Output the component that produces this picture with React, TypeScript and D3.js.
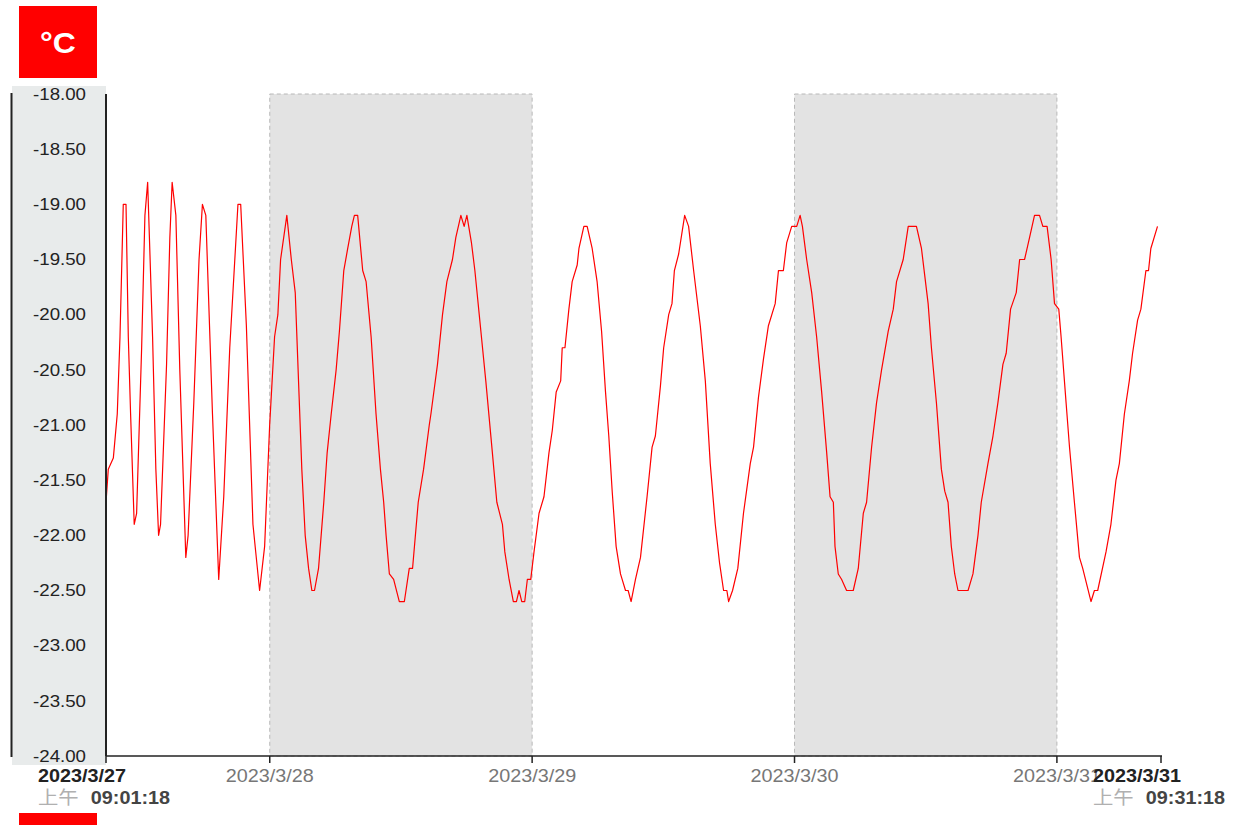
import React from "react";
import * as d3 from "d3";

// ---- data ----
const startTime = "2023-03-27T09:01:18";
const endTime = "2023-03-31T09:31:18";
const startLabel = ["2023/3/27", "上午", "09:01:18"];
const endLabel = ["2023/3/31", "上午", "09:31:18"];
const dayTicks = ["2023-03-28T00:00:00", "2023-03-29T00:00:00", "2023-03-30T00:00:00", "2023-03-31T00:00:00"];
const dayLabels = ["2023/3/28", "2023/3/29", "2023/3/30", "2023/3/31"];
const shadedFrom = ["2023-03-28T00:00:00", "2023-03-30T00:00:00"];
const shadedTo = ["2023-03-29T00:00:00", "2023-03-31T00:00:00"];
const yTicks = [-18, -18.5, -19, -19.5, -20, -20.5, -21, -21.5, -22, -22.5, -23, -23.5, -24];
const unitLabel = "°C";

// hours since start, temperature (°C)
const hoursSinceStart = [
  0.0, 0.21, 0.67, 1.03, 1.28, 1.58, 1.83, 2.04, 2.25, 2.58, 2.8, 3.26, 3.56, 3.81, 4.26, 4.56, 4.81, 4.99,
  5.54, 5.84, 6.05, 6.39, 6.75, 7.3, 7.51, 8.03, 8.51, 8.82, 9.13, 9.74, 10.31, 10.77, 11.32, 12.07, 12.32,
  12.84, 13.44, 14.05, 14.51, 14.97, 15.42, 15.72, 15.97, 16.54, 16.95, 17.31, 17.61, 17.91, 18.22, 18.53,
  18.83, 19.07, 19.44, 19.92, 20.23, 20.6, 21.05, 21.35, 21.75, 22.11, 22.48, 22.72, 23.02, 23.48, 23.79,
  24.25, 24.7, 25.1, 25.4, 25.62, 25.92, 26.31, 26.83, 27.29, 27.74, 28.04, 28.56, 29.05, 29.57, 29.72,
  30.32, 30.78, 31.18, 31.69, 32.0, 32.46, 32.76, 33.01, 33.43, 33.74, 34.29, 34.74, 35.34, 35.75, 36.26,
  36.48, 36.87, 37.26, 37.54, 37.78, 38.03, 38.3, 38.54, 38.85, 39.15, 39.61, 40.06, 40.52, 40.82, 41.18,
  41.59, 41.73, 41.98, 42.34, 42.64, 43.1, 43.26, 43.71, 44.01, 44.47, 44.92, 45.33, 45.69, 45.99, 46.3,
  46.66, 47.06, 47.52, 47.76, 48.03, 48.43, 48.89, 49.49, 49.95, 50.25, 50.71, 51.01, 51.47, 51.77, 51.99,
  52.38, 52.93, 53.29, 53.75, 54.36, 54.82, 55.27, 55.73, 56.12, 56.49, 56.79, 56.95, 57.31, 57.79, 58.31,
  58.93, 59.23, 59.68, 60.14, 60.59, 61.21, 61.51, 61.96, 62.26, 62.72, 63.18, 63.49, 63.7, 64.09, 64.55,
  65.0, 65.46, 65.92, 66.23, 66.53, 66.68, 66.98, 67.29, 67.74, 68.35, 68.81, 69.27, 69.57, 70.03, 70.48,
  70.94, 71.55, 72.01, 72.31, 72.92, 73.38, 74.13, 74.59, 75.2, 75.5, 75.96, 76.41, 76.72, 77.02, 77.32,
  77.63, 77.93, 78.85, 79.3, 79.76, 80.06, 80.67, 81.13, 81.58, 82.04, 82.34, 82.74, 83.26, 83.57, 84.02,
  84.48, 84.93, 85.39, 85.69, 86.08, 86.45, 86.76, 87.15, 87.36, 87.82, 88.13, 88.58, 89.04, 89.34, 90.1,
  90.41, 90.71, 91.47, 91.92, 92.38, 92.69, 93.15, 93.6, 93.9, 94.36, 94.66, 95.12, 95.36, 95.57, 96.18,
];
const temperatures = [
  -21.7, -21.4, -21.3, -20.9, -20.2, -19.0, -19.0, -20.2, -20.9, -21.9, -21.8, -20.3, -19.1, -18.8, -20.2, -21.4, -22.0, -21.9,
  -20.45, -19.3, -18.8, -19.1, -20.5, -22.2, -22.0, -20.8, -19.5, -19.0, -19.1, -20.9, -22.4, -21.65, -20.3, -19.0, -19.0,
  -20.1, -21.9, -22.5, -22.1, -21.0, -20.2, -20.0, -19.5, -19.1, -19.5, -19.8, -20.6, -21.4, -22.0, -22.3,
  -22.5, -22.5, -22.3, -21.7, -21.25, -20.9, -20.5, -20.15, -19.6, -19.4, -19.2, -19.1, -19.1, -19.6, -19.7,
  -20.2, -20.9, -21.4, -21.7, -22.0, -22.35, -22.4, -22.6, -22.6, -22.3, -22.3, -21.7, -21.4, -21.0, -20.9,
  -20.45, -20.0, -19.7, -19.5, -19.3, -19.1, -19.2, -19.1, -19.35, -19.6, -20.15, -20.6, -21.25, -21.7, -21.9,
  -22.15, -22.4, -22.6, -22.6, -22.5, -22.6, -22.6, -22.4, -22.4, -22.15, -21.8, -21.65, -21.25, -21.05, -20.7,
  -20.6, -20.3, -20.3, -19.95, -19.7, -19.55, -19.4, -19.2, -19.2, -19.4, -19.7, -20.15, -20.7, -21.1, -21.6,
  -22.1, -22.35, -22.5, -22.5, -22.6, -22.4, -22.2, -21.65, -21.2, -21.1, -20.65, -20.3, -20.0, -19.9, -19.6,
  -19.45, -19.1, -19.2, -19.6, -20.1, -20.6, -21.35, -21.9, -22.25, -22.5, -22.5, -22.6, -22.5, -22.3, -21.8,
  -21.35, -21.2, -20.75, -20.4, -20.1, -19.9, -19.6, -19.6, -19.35, -19.2, -19.2, -19.1, -19.2, -19.5, -19.8,
  -20.2, -20.7, -21.25, -21.65, -21.7, -22.1, -22.35, -22.4, -22.5, -22.5, -22.3, -21.8, -21.7, -21.2, -20.8,
  -20.5, -20.15, -19.95, -19.7, -19.5, -19.2, -19.2, -19.4, -19.9, -20.3, -20.8, -21.4, -21.6, -21.7, -22.1,
  -22.35, -22.5, -22.5, -22.35, -22.0, -21.7, -21.35, -21.1, -20.8, -20.45, -20.35, -19.95, -19.8, -19.5, -19.5,
  -19.3, -19.1, -19.1, -19.2, -19.2, -19.5, -19.9, -19.95, -20.2, -20.8, -21.2, -21.7, -22.2, -22.3, -22.6,
  -22.5, -22.5, -22.15, -21.9, -21.5, -21.35, -20.9, -20.6, -20.35, -20.05, -19.95, -19.6, -19.6, -19.4, -19.2,
];

const W = 1245;
const H = 825;
const M = { left: 106, right: 1161, top: 94, bottom: 756 };
const FONT = "'Liberation Sans', Arial, sans-serif";
const SX = 1.1; // horizontal stretch of the reference's text

export default function App() {
  const t0 = new Date(startTime);
  const t1 = new Date(endTime);
  const x = d3.scaleTime().domain([t0, t1]).range([M.left, M.right]);
  const y = d3.scaleLinear().domain([-24, -18]).range([M.bottom, M.top]);

  const points = hoursSinceStart.map((h, i) => ({
    t: new Date(t0.getTime() + h * 3600 * 1000),
    v: temperatures[i],
  }));
  const line = d3
    .line<{ t: Date; v: number }>()
    .x((d) => x(d.t))
    .y((d) => y(d.v))
    .curve(d3.curveLinear);

  const allTicks = [t0, ...dayTicks.map((d) => new Date(d)), t1];

  const stretched = (tx: number, ty: number) => `translate(${tx},${ty}) scale(${SX},1)`;

  return (
    <svg
      width={W}
      height={H}
      style={{ position: "absolute", left: 0, top: 0, background: "#fff" }}
      fontFamily={FONT}
    >
      {/* unit badge */}
      <rect x={19} y={6} width={78} height={72} fill="#ff0000" />
      <text transform={stretched(58, 53)} fill="#fff" fontSize={29} fontWeight="bold" textAnchor="middle">
        {unitLabel}
      </text>
      <rect x={19} y={813} width={78} height={14} fill="#ff0000" />

      {/* y axis panel */}
      <rect x={12} y={86} width={94} height={679} fill="#e8ebeb" />
      <line x1={11.5} x2={11.5} y1={y(-18) - 1} y2={y(-24) + 1} stroke="#222" strokeWidth={2} />

      {/* shaded days */}
      {shadedFrom.map((s, i) => {
        const xa = x(new Date(s));
        const xb = x(new Date(shadedTo[i]));
        return (
          <rect
            key={s}
            x={xa}
            y={M.top}
            width={xb - xa}
            height={M.bottom - M.top}
            fill="#e3e3e3"
            stroke="#b8b8b8"
            strokeWidth={1}
            strokeDasharray="4,3"
          />
        );
      })}

      {/* y labels */}
      {yTicks.map((v) => (
        <text
          key={v}
          transform={stretched(86, y(v))}
          fontSize={17}
          fill="#222"
          textAnchor="end"
          dominantBaseline="central"
        >
          {v.toFixed(2)}
        </text>
      ))}

      {/* data line */}
      <path d={line(points) || ""} fill="none" stroke="#ff0000" strokeWidth={1.2} strokeLinejoin="round" />

      {/* axes */}
      <line x1={M.left} x2={M.left} y1={M.top} y2={M.bottom} stroke="#222" strokeWidth={2} />
      <line x1={M.left} x2={M.right + 1} y1={M.bottom} y2={M.bottom} stroke="#222" strokeWidth={1.5} />
      {allTicks.map((t, i) => (
        <line key={i} x1={x(t)} x2={x(t)} y1={M.bottom} y2={M.bottom + 7} stroke="#222" strokeWidth={1.5} />
      ))}

      {/* day labels */}
      {dayTicks.map((d, i) => (
        <text key={d} transform={stretched(x(new Date(d)), 782)} fontSize={18} fill="#777" textAnchor="middle">
          {dayLabels[i]}
        </text>
      ))}

      {/* start / end labels */}
      {[
        { t: t0, lab: startLabel },
        { t: t1, lab: endLabel },
      ].map(({ t, lab }, i) => (
        <g key={i} transform={`translate(${x(t) - 68},0)`}>
          <text transform={stretched(0, 782)} fontSize={18} fontWeight="bold" fill="#222">
            {lab[0]}
          </text>
          <text transform={stretched(0, 804)} fontSize={18}>
            <tspan fill="#b0b0b0" fontFamily="'Noto Sans CJK SC', sans-serif" fontSize={18.5}>
              {lab[1]}
            </tspan>
            <tspan fill="#444" fontWeight="bold" dx={11}>
              {lab[2]}
            </tspan>
          </text>
        </g>
      ))}
    </svg>
  );
}
